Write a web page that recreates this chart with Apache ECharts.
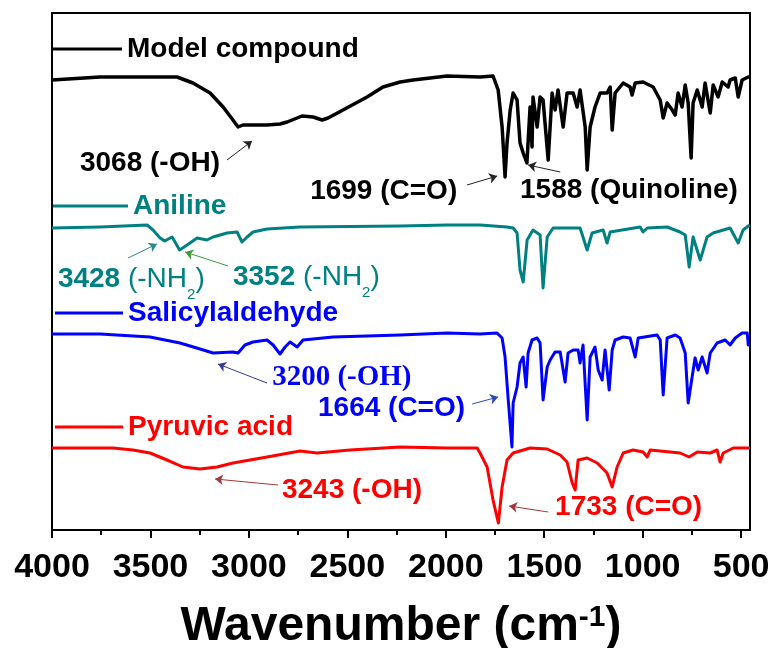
<!DOCTYPE html>
<html><head><meta charset="utf-8">
<script src="https://cdn.jsdelivr.net/npm/echarts@6/dist/echarts.min.js"></script>
<style>html,body{margin:0;padding:0;background:#fff}#c{width:773px;height:648px}</style>
</head><body><div id="c"></div>
<script>
// ---- axis ticks (wavenumber, cm-1)
const xTicks = [4000, 3500, 3000, 2500, 2000, 1500, 1000, 500];
const xMinorTicks = [3750, 3250, 2750, 2250, 1750, 1250, 750];
const xMin = 455, xMax = 4000;

// ---- series names
const seriesNames = ['Model compound', 'Aniline', 'Salicylaldehyde', 'Pyruvic acid'];

// ---- spectra: [wavenumber, transmittance (a.u., stacked with offsets)]
const modelCompound = [[4000,450],[3756,453],[3589,453],[3365,453],[3284,447],[3197,437],[3131,423],[3081,410],[3055,403],[3030,405],[2908,405],[2842,406],[2806,408],[2730,414],[2674,413],[2628,410],[2598,412],[2522,420],[2400,433],[2319,443],[2232,448],[2166,450],[1993,454],[1826,453],[1760,454],[1734,440],[1714,403],[1699,353],[1689,387],[1673,420],[1658,437],[1638,430],[1623,387],[1607,377],[1588,367],[1572,423],[1562,383],[1557,433],[1536,403],[1521,433],[1506,430],[1480,370],[1460,437],[1445,420],[1430,440],[1404,403],[1384,437],[1353,437],[1333,423],[1318,440],[1292,403],[1282,360],[1267,403],[1242,423],[1216,437],[1181,437],[1165,443],[1155,400],[1140,437],[1099,447],[1064,443],[1054,435],[1038,447],[998,448],[947,443],[911,430],[896,412],[876,427],[850,420],[835,415],[820,437],[800,423],[784,445],[769,427],[754,372],[744,427],[723,440],[698,423],[683,447],[657,417],[642,445],[617,433],[596,448],[566,443],[556,450],[530,452],[515,433],[495,450],[464,453],[455,453]];

const aniline = [[4000,302],[3756,303],[3517,305],[3487,300],[3451,292],[3428,289],[3390,293],[3352,280],[3314,285],[3263,292],[3213,290],[3182,293],[3111,297],[3060,298],[3035,288],[3009,293],[2979,298],[2908,301],[2740,303],[2232,304],[1993,305],[1826,305],[1689,303],[1658,302],[1638,297],[1623,260],[1607,248],[1587,290],[1557,300],[1521,295],[1506,242],[1485,293],[1455,302],[1318,302],[1282,280],[1257,297],[1201,300],[1181,287],[1165,298],[1013,303],[998,298],[977,302],[876,303],[810,298],[784,295],[764,263],[744,293],[708,270],[673,293],[642,297],[556,302],[515,287],[490,300],[464,304],[455,305]];

const salicylaldehyde = [[4000,196],[3756,196],[3502,193],[3350,187],[3248,181],[3182,177],[3081,178],[3055,177],[3020,185],[2979,188],[2908,190],[2877,185],[2842,176],[2816,183],[2791,188],[2755,183],[2725,190],[2573,193],[2232,195],[1993,197],[1826,196],[1740,197],[1714,192],[1699,173],[1684,133],[1664,83],[1658,127],[1638,143],[1623,167],[1607,173],[1592,143],[1582,177],[1562,190],[1536,192],[1521,187],[1506,130],[1485,163],[1470,170],[1445,178],[1419,178],[1394,148],[1379,177],[1353,180],[1328,180],[1318,167],[1303,185],[1282,110],[1267,173],[1242,183],[1226,160],[1206,150],[1191,180],[1170,140],[1155,180],[1140,190],[1099,193],[1064,192],[1038,173],[1023,192],[927,195],[911,190],[896,135],[876,192],[835,195],[810,192],[784,177],[769,127],[749,153],[734,172],[718,160],[698,173],[673,157],[657,177],[622,187],[581,190],[556,185],[530,192],[495,197],[469,197],[464,185],[455,185]];

const pyruvicAcid = [[4000,82],[3690,82],[3589,80],[3502,77],[3416,70],[3335,63],[3248,61],[3162,63],[3081,67],[2908,73],[2740,79],[2654,77],[2486,80],[2232,83],[1993,82],[1841,82],[1826,77],[1790,63],[1760,30],[1733,7],[1714,43],[1689,70],[1658,77],[1572,82],[1485,81],[1419,75],[1384,68],[1358,47],[1343,40],[1328,70],[1282,72],[1231,67],[1181,57],[1155,43],[1130,63],[1099,77],[1049,80],[998,78],[977,73],[962,80],[810,77],[764,73],[723,78],[657,77],[622,80],[607,68],[591,77],[540,82],[455,82]];

// ---- peak annotations (text anchor = left/middle, arrow from -> to), in data units
const modelNotes = [
  {text:'3068 (-OH)', at:[3858,367], from:[3111,370], to:[2984,389], arrow:'#222'},
  {text:'1699 (C=O)', at:[2689,339], from:[1892,345], to:[1739,354], arrow:'#222'},
  {text:'1588 (Quinoline)', at:[1623,340], from:[1419,358], to:[1582,365], arrow:'#222'}
];
const anilineNotes = [
  {text:'{b|3428} {n|(-NH}{s|2}{n|)}', at:[3970,251], from:[3614,272], to:[3467,286], arrow:'#2a8a8a'},
  {text:'{b|3352} {n|(-NH}{s|2}{n|)}', at:[3081,253], from:[3106,264], to:[3324,278], arrow:'#3c9a3c'}
];
const salicylNotes = [
  {text:'3200 (-OH)', at:[2882,152], from:[2908,147], to:[3157,166], arrow:'#3a3a9a', serif:true},
  {text:'1664 (C=O)', at:[2649,122], from:[1866,126], to:[1734,133], arrow:'#2a4ab0'}
];
const pyruvicNotes = [
  {text:'3243 (-OH)', at:[2832,40], from:[2852,45], to:[3172,51], arrow:'#a03a3a'},
  {text:'1733 (C=O)', at:[1445,23], from:[1480,18], to:[1678,24], arrow:'#a03a3a'}
];

const colors = ['#000000', '#008080', '#0000ff', '#ff0000'];
const SANS = '"Liberation Sans", Arial, Helvetica, sans-serif';
const SERIF = '"Liberation Serif", "Times New Roman", serif';

function mkSeries(name, data, color, width, notes, z) {
  return {
    name: name, type: 'line', data: data, z: z,
    showSymbol: false, symbol: 'none', smooth: false, silent: true, animation: false,
    color: color,
    lineStyle: { color: color, width: width, join: 'round' },
    itemStyle: { color: color },
    markPoint: {
      symbol: 'circle', symbolSize: 1, silent: true, animation: false,
      itemStyle: { color: 'rgba(0,0,0,0)' },
      data: notes.map(n => ({
        coord: n.at,
        label: {
          show: true, position: 'inside', align: 'left', verticalAlign: 'middle',
          formatter: n.text, color: color, fontSize: n.serif ? 29 : 28, fontWeight: 'bold',
          fontFamily: n.serif ? SERIF : SANS,
          rich: {
            b: { fontSize: 28, fontWeight: 'bold', fontFamily: SANS, color: color, lineHeight: 28, verticalAlign: 'top' },
            n: { fontSize: 28, fontWeight: 'normal', fontFamily: SANS, color: color, lineHeight: 28, verticalAlign: 'top' },
            s: { fontSize: 15, fontWeight: 'normal', fontFamily: SANS, color: color, lineHeight: 15, padding: [22, 0, 0, 0], verticalAlign: 'top' }
          }
        }
      }))
    },
    markLine: {
      silent: true, animation: false, symbol: ['none', 'arrow'], symbolSize: 8,
      label: { show: false }, emphasis: { disabled: true },
      data: notes.map(n => [
        { coord: n.from, lineStyle: { color: n.arrow, width: 1, type: 'solid' }, itemStyle: { color: n.arrow } },
        { coord: n.to }
      ])
    }
  };
}

const legendCommon = {
  orient: 'horizontal', padding: 0, itemGap: 0, icon: 'rect', itemHeight: 3,
  selectedMode: false,
  textStyle: { fontSize: 28, fontWeight: 'bold', fontFamily: SANS, lineHeight: 28 }
};
function mkLegend(i, left, top, w) {
  return Object.assign({}, legendCommon, {
    left: left, top: top, itemWidth: w,
    data: [{ name: seriesNames[i], textStyle: { color: colors[i], fontSize: 28, fontWeight: 'bold', fontFamily: SANS } }]
  });
}

const chart = echarts.init(document.getElementById('c'), null, { renderer: 'canvas' });
chart.setOption({
  animation: false,
  backgroundColor: '#ffffff',
  grid: { left: 52, right: 23, top: 13, bottom: 118, show: true, borderColor: '#000', borderWidth: 2, backgroundColor: 'transparent', containLabel: false, outerBoundsMode: 'none' },
  legend: [
    mkLegend(0, 52, 35, 70),
    mkLegend(1, 53, 192, 75),
    mkLegend(2, 55, 299, 68),
    mkLegend(3, 55, 413, 68)
  ],
  xAxis: [{
    type: 'value', inverse: true, min: xMin, max: xMax, position: 'bottom',
    axisLine: { show: true, onZero: false, lineStyle: { color: '#000', width: 2 } },
    axisTick: { show: true, customValues: xTicks, length: 8, lineStyle: { color: '#000', width: 2 } },
    axisLabel: { show: true, customValues: xTicks, formatter: v => String(v), fontSize: 34, fontWeight: 'bold', color: '#000', fontFamily: SANS, margin: 21 },
    splitLine: { show: false },
    name: '{t|Wavenumber (cm}{s|-1}{t|)}', nameLocation: 'middle', nameGap: 73,
    nameTextStyle: {
      rich: {
        t: { fontSize: 48, fontWeight: 'bold', fontFamily: SANS, color: '#000', lineHeight: 54, verticalAlign: 'top' },
        s: { fontSize: 30, fontWeight: 'bold', fontFamily: SANS, color: '#000', lineHeight: 20, verticalAlign: 'top' }
      }
    }
  }, {
    type: 'value', inverse: true, min: xMin, max: xMax, position: 'bottom', gridIndex: 0,
    axisLine: { show: false },
    axisTick: { show: true, customValues: xMinorTicks, length: 5, lineStyle: { color: '#000', width: 2 } },
    axisLabel: { show: false }, splitLine: { show: false }
  }],
  yAxis: {
    type: 'value', min: 0, max: 517,
    axisLine: { show: true, lineStyle: { color: '#000', width: 2 } },
    axisTick: { show: false }, axisLabel: { show: false }, splitLine: { show: false }
  },
  series: [
    mkSeries(seriesNames[3], pyruvicAcid, colors[3], 3, pyruvicNotes, 2),
    mkSeries(seriesNames[2], salicylaldehyde, colors[2], 3, salicylNotes, 3),
    mkSeries(seriesNames[1], aniline, colors[1], 3, anilineNotes, 4),
    mkSeries(seriesNames[0], modelCompound, colors[0], 3.5, modelNotes, 5)
  ]
});
</script>
</body></html>
